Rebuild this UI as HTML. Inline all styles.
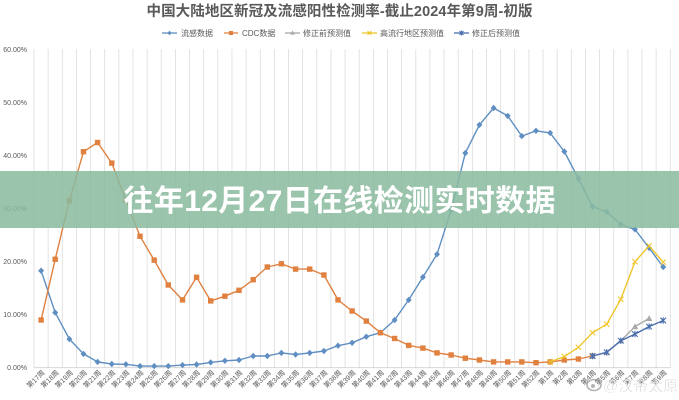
<!DOCTYPE html>
<html><head><meta charset="utf-8">
<style>
html,body{margin:0;padding:0;background:#fff;}
svg{display:block;}
text{font-family:"Liberation Sans","Noto Sans CJK SC",sans-serif;}
</style></head>
<body>
<svg width="679" height="400" viewBox="0 0 679 400" xmlns="http://www.w3.org/2000/svg">
<defs>
<marker id="mD" markerUnits="userSpaceOnUse" markerWidth="10" markerHeight="10" refX="5" refY="5" overflow="visible"><path d="M5 1.8 L8 5 L5 8.2 L2 5 Z" fill="#5f8fc2"/></marker>
<marker id="mS" markerUnits="userSpaceOnUse" markerWidth="10" markerHeight="10" refX="5" refY="5" overflow="visible"><rect x="2.3" y="2.3" width="5.4" height="5.4" fill="#e0813f"/></marker>
<marker id="mT" markerUnits="userSpaceOnUse" markerWidth="10" markerHeight="10" refX="5" refY="5" overflow="visible"><path d="M5 1.8 L8.3 7.6 L1.7 7.6 Z" fill="#a9a9a9"/></marker>
<marker id="mY" markerUnits="userSpaceOnUse" markerWidth="10" markerHeight="10" refX="5" refY="5" overflow="visible"><path d="M2.3 2.3 L7.7 7.7 M7.7 2.3 L2.3 7.7" stroke="#f0c52a" stroke-width="1"/></marker>
<marker id="mX" markerUnits="userSpaceOnUse" markerWidth="10" markerHeight="10" refX="5" refY="5" overflow="visible"><path d="M2.2 2.2 L7.8 7.8 M7.8 2.2 L2.2 7.8 M5 1.8 L5 8.2" stroke="#4a6fae" stroke-width="1.1"/></marker>
</defs>

<!-- title -->
<text x="339.5" y="16" text-anchor="middle" font-size="14.5" font-weight="bold" fill="#595959" textLength="386">中国大陆地区新冠及流感阳性检测率-截止2024年第9周-初版</text>

<!-- legend -->
<g font-size="8" fill="#595959">
<line x1="162" y1="33" x2="177" y2="33" stroke="#5f8fc2" stroke-width="1.3"/><path d="M169.5 30.8 L171.7 33 L169.5 35.2 L167.3 33 Z" fill="#5f8fc2"/>
<text x="181" y="36">流感数据</text>
<line x1="224" y1="33" x2="238" y2="33" stroke="#e0813f" stroke-width="1.3"/><rect x="229" y="31" width="4" height="4" fill="#e0813f"/>
<text x="242" y="36">CDC数据</text>
<line x1="285" y1="33" x2="300" y2="33" stroke="#a9a9a9" stroke-width="1.3"/><path d="M292.5 30.5 L294.8 34.6 L290.2 34.6 Z" fill="#a9a9a9"/>
<text x="303" y="36">修正前预测值</text>
<line x1="362" y1="33" x2="377" y2="33" stroke="#f0c52a" stroke-width="1.3"/><path d="M367.5 31 L371.5 35 M371.5 31 L367.5 35" stroke="#f0c52a" stroke-width="1"/>
<text x="380" y="36">高流行地区预测值</text>
<line x1="454" y1="33" x2="469" y2="33" stroke="#4a6fae" stroke-width="1.3"/><path d="M459.5 31 L463.5 35 M463.5 31 L459.5 35 M461.5 30.5 L461.5 35.5" stroke="#4a6fae" stroke-width="1"/>
<text x="472" y="36">修正后预测值</text>
</g>

<!-- vertical gridlines -->
<g stroke="#dcdcdc" stroke-width="0.8">
<line x1="34" y1="49" x2="34" y2="367.7"/><line x1="48.14" y1="49" x2="48.14" y2="367.7"/><line x1="62.28" y1="49" x2="62.28" y2="367.7"/><line x1="76.42" y1="49" x2="76.42" y2="367.7"/><line x1="90.56" y1="49" x2="90.56" y2="367.7"/><line x1="104.7" y1="49" x2="104.7" y2="367.7"/><line x1="118.84" y1="49" x2="118.84" y2="367.7"/><line x1="132.98" y1="49" x2="132.98" y2="367.7"/><line x1="147.12" y1="49" x2="147.12" y2="367.7"/><line x1="161.26" y1="49" x2="161.26" y2="367.7"/><line x1="175.4" y1="49" x2="175.4" y2="367.7"/><line x1="189.54" y1="49" x2="189.54" y2="367.7"/><line x1="203.68" y1="49" x2="203.68" y2="367.7"/><line x1="217.82" y1="49" x2="217.82" y2="367.7"/><line x1="231.96" y1="49" x2="231.96" y2="367.7"/><line x1="246.1" y1="49" x2="246.1" y2="367.7"/><line x1="260.24" y1="49" x2="260.24" y2="367.7"/><line x1="274.38" y1="49" x2="274.38" y2="367.7"/><line x1="288.52" y1="49" x2="288.52" y2="367.7"/><line x1="302.66" y1="49" x2="302.66" y2="367.7"/><line x1="316.8" y1="49" x2="316.8" y2="367.7"/><line x1="330.94" y1="49" x2="330.94" y2="367.7"/><line x1="345.08" y1="49" x2="345.08" y2="367.7"/><line x1="359.22" y1="49" x2="359.22" y2="367.7"/><line x1="373.36" y1="49" x2="373.36" y2="367.7"/><line x1="387.5" y1="49" x2="387.5" y2="367.7"/><line x1="401.64" y1="49" x2="401.64" y2="367.7"/><line x1="415.78" y1="49" x2="415.78" y2="367.7"/><line x1="429.92" y1="49" x2="429.92" y2="367.7"/><line x1="444.06" y1="49" x2="444.06" y2="367.7"/><line x1="458.2" y1="49" x2="458.2" y2="367.7"/><line x1="472.34" y1="49" x2="472.34" y2="367.7"/><line x1="486.48" y1="49" x2="486.48" y2="367.7"/><line x1="500.62" y1="49" x2="500.62" y2="367.7"/><line x1="514.76" y1="49" x2="514.76" y2="367.7"/><line x1="528.9" y1="49" x2="528.9" y2="367.7"/><line x1="543.04" y1="49" x2="543.04" y2="367.7"/><line x1="557.18" y1="49" x2="557.18" y2="367.7"/><line x1="571.32" y1="49" x2="571.32" y2="367.7"/><line x1="585.46" y1="49" x2="585.46" y2="367.7"/><line x1="599.6" y1="49" x2="599.6" y2="367.7"/><line x1="613.74" y1="49" x2="613.74" y2="367.7"/><line x1="627.88" y1="49" x2="627.88" y2="367.7"/><line x1="642.02" y1="49" x2="642.02" y2="367.7"/><line x1="656.16" y1="49" x2="656.16" y2="367.7"/><line x1="670.3" y1="49" x2="670.3" y2="367.7"/>
<line x1="34" y1="367.7" x2="670.3" y2="367.7" stroke="#d0d0d0"/>
</g>

<!-- y-axis labels -->
<g font-size="7" fill="#595959" text-anchor="end">
<text x="27" y="52">60.00%</text>
<text x="27" y="105">50.00%</text>
<text x="27" y="158">40.00%</text>
<text x="27" y="211">30.00%</text>
<text x="27" y="264">20.00%</text>
<text x="27" y="317">10.00%</text>
<text x="27" y="370">0.00%</text>
</g>

<!-- x-axis labels -->
<g font-size="7" fill="#595959" text-anchor="end">
<text transform="translate(45.1,373) rotate(-45)">第17周</text>
<text transform="translate(59.2,373) rotate(-45)">第18周</text>
<text transform="translate(73.4,373) rotate(-45)">第19周</text>
<text transform="translate(87.5,373) rotate(-45)">第20周</text>
<text transform="translate(101.6,373) rotate(-45)">第21周</text>
<text transform="translate(115.8,373) rotate(-45)">第22周</text>
<text transform="translate(129.9,373) rotate(-45)">第23周</text>
<text transform="translate(144,373) rotate(-45)">第24周</text>
<text transform="translate(158.2,373) rotate(-45)">第25周</text>
<text transform="translate(172.3,373) rotate(-45)">第26周</text>
<text transform="translate(186.5,373) rotate(-45)">第27周</text>
<text transform="translate(200.6,373) rotate(-45)">第28周</text>
<text transform="translate(214.7,373) rotate(-45)">第29周</text>
<text transform="translate(228.9,373) rotate(-45)">第30周</text>
<text transform="translate(243,373) rotate(-45)">第31周</text>
<text transform="translate(257.2,373) rotate(-45)">第32周</text>
<text transform="translate(271.3,373) rotate(-45)">第33周</text>
<text transform="translate(285.4,373) rotate(-45)">第34周</text>
<text transform="translate(299.6,373) rotate(-45)">第35周</text>
<text transform="translate(313.7,373) rotate(-45)">第36周</text>
<text transform="translate(327.9,373) rotate(-45)">第37周</text>
<text transform="translate(342,373) rotate(-45)">第38周</text>
<text transform="translate(356.1,373) rotate(-45)">第39周</text>
<text transform="translate(370.3,373) rotate(-45)">第40周</text>
<text transform="translate(384.4,373) rotate(-45)">第41周</text>
<text transform="translate(398.6,373) rotate(-45)">第42周</text>
<text transform="translate(412.7,373) rotate(-45)">第43周</text>
<text transform="translate(426.9,373) rotate(-45)">第44周</text>
<text transform="translate(441,373) rotate(-45)">第45周</text>
<text transform="translate(455.1,373) rotate(-45)">第46周</text>
<text transform="translate(469.3,373) rotate(-45)">第47周</text>
<text transform="translate(483.4,373) rotate(-45)">第48周</text>
<text transform="translate(497.6,373) rotate(-45)">第49周</text>
<text transform="translate(511.7,373) rotate(-45)">第50周</text>
<text transform="translate(525.8,373) rotate(-45)">第51周</text>
<text transform="translate(540,373) rotate(-45)">第52周</text>
<text transform="translate(554.1,373) rotate(-45)">第1周</text>
<text transform="translate(568.3,373) rotate(-45)">第2周</text>
<text transform="translate(582.4,373) rotate(-45)">第3周</text>
<text transform="translate(596.5,373) rotate(-45)">第4周</text>
<text transform="translate(610.7,373) rotate(-45)">第5周</text>
<text transform="translate(624.8,373) rotate(-45)">第6周</text>
<text transform="translate(639,373) rotate(-45)">第7周</text>
<text transform="translate(653.1,373) rotate(-45)">第8周</text>
<text transform="translate(667.2,373) rotate(-45)">第9周</text>
</g>

<!-- series: flu -->
<polyline fill="none" stroke="#5f8fc2" stroke-width="1.4" stroke-linejoin="round" marker-start="url(#mD)" marker-mid="url(#mD)" marker-end="url(#mD)"
points="41.1,270.7 55.2,312.6 69.4,339.1 83.5,353.9 97.6,361.9 111.8,364 125.9,364.3 140,366.1 154.2,366.1 168.3,366.1 182.5,365.1 196.6,364.5 210.7,362.4 224.9,360.8 239,360 253.2,356 267.3,356 281.4,352.9 295.6,354.5 309.7,352.9 323.9,351 338,345.7 352.1,342.8 366.3,336.7 380.4,332.7 394.6,320 408.7,299.9 422.9,277.1 437,254.3 451.1,210.3 465.3,153.1 479.4,124.9 493.6,108 507.7,115.9 521.8,136.1 536,130.8 550.1,132.9 564.3,151.5 578.4,178.5 592.5,206.6 606.7,211.9 620.8,224.6 635,229.4 649.1,247.9 663.2,267"/>

<!-- series: CDC -->
<polyline fill="none" stroke="#e0813f" stroke-width="1.4" stroke-linejoin="round" marker-start="url(#mS)" marker-mid="url(#mS)" marker-end="url(#mS)"
points="41.1,320 55.2,259.3 69.4,200.7 83.5,151.7 97.6,142.5 111.8,163.1 125.9,200.2 140,236.3 154.2,260.1 168.3,285 182.5,299.9 196.6,277.3 210.7,300.9 224.9,296.2 239,290.3 253.2,279.7 267.3,267 281.4,263.8 295.6,269.1 309.7,269.1 323.9,275 338,299.9 352.1,311 366.3,321.1 380.4,332.7 394.6,338.5 408.7,345.4 422.9,348.1 437,352.9 451.1,355 465.3,358.2 479.4,360 493.6,361.9 507.7,361.9 521.8,361.9 536,362.7 550.1,361.9 564.3,360 578.4,359 592.5,356"/>

<!-- series: gray (修正前) -->
<polyline fill="none" stroke="#a9a9a9" stroke-width="1.4" stroke-linejoin="round" marker-start="url(#mT)" marker-mid="url(#mT)" marker-end="url(#mT)"
points="592.5,356 606.7,352.3 620.8,340.7 635,326.6 649.1,318.4"/>

<!-- series: yellow (高流行) -->
<polyline fill="none" stroke="#f0c52a" stroke-width="1.4" stroke-linejoin="round" marker-start="url(#mY)" marker-mid="url(#mY)" marker-end="url(#mY)"
points="550.1,361.9 564.3,356.6 578.4,347.3 592.5,332.7 606.7,324.2 620.8,299.3 635,261.7 649.1,245.8 663.2,262.2"/>

<!-- series: blue X (修正后) -->
<polyline fill="none" stroke="#4a6fae" stroke-width="1.4" stroke-linejoin="round" marker-start="url(#mX)" marker-mid="url(#mX)" marker-end="url(#mX)"
points="592.5,356 606.7,352.3 620.8,340.7 635,334.1 649.1,326.6 663.2,320.5"/>

<!-- banner -->
<rect x="0" y="171" width="679" height="57" fill="rgb(137,186,158)" fill-opacity="0.86"/>
<text x="339.5" y="211" text-anchor="middle" font-size="30" font-weight="bold" fill="#ffffff" textLength="432" style='font-family:"Liberation Sans","Noto Sans CJK SC",sans-serif'>往年12月27日在线检测实时数据</text>

<!-- watermark -->
<g opacity="0.75">
<ellipse cx="594" cy="385" rx="7" ry="5.5" fill="none" stroke="#9a9a9a" stroke-width="1.6"/>
<circle cx="593" cy="386" r="2" fill="#9a9a9a"/>
<text x="603" y="391" font-size="15" fill="#b5b5b5" stroke="#ffffff" stroke-width="0.6" style='font-family:"Liberation Sans","Noto Sans CJK SC",sans-serif'>@汉帝太原</text>
</g>
</svg>
</body></html>
